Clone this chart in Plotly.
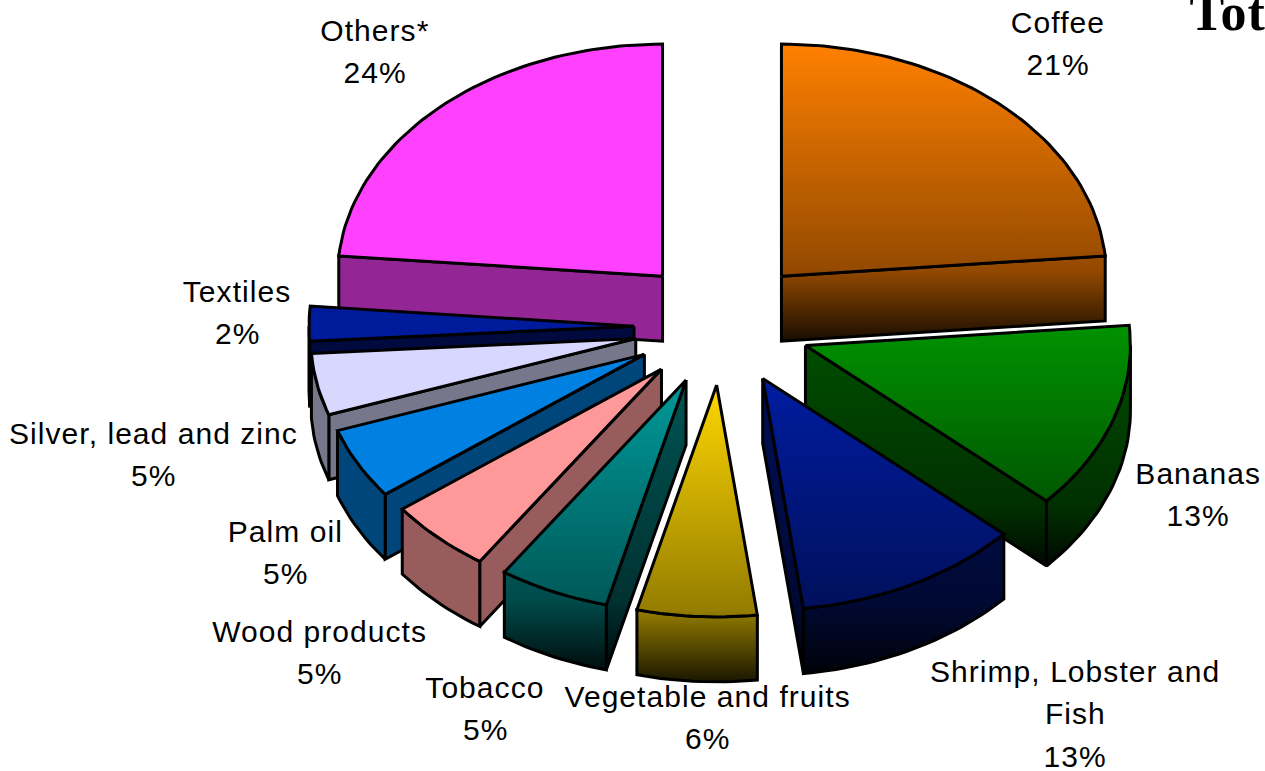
import math
import plotly.graph_objects as go

# ---- data ----
categories = ["Coffee", "Bananas", "Shrimp, Lobster and<br>Fish", "Vegetable and fruits",
              "Tobacco", "Wood products", "Palm oil", "Silver, lead and zinc",
              "Textiles", "Others*"]
percent_labels = [21, 13, 13, 6, 5, 5, 5, 5, 2, 24]
# apparent size of each slice on the tilted ellipse, degrees
drawn_sweep = [85.0, 47.1, 40.7, 21.4, 19.8, 18.9, 17.9, 15.5, 8.7, 85.0]

# ---- styles ----
face_colors = [(255, 128, 0), (0, 146, 0), (0, 28, 160), (255, 215, 0), (0, 153, 153),
               (255, 153, 153), (0, 128, 224), (216, 216, 255), (0, 26, 156), (255, 64, 255)]
has_gradient = [True, True, True, True, True, False, False, False, False, False]
radial_wall_shade = [1.0, 0.55, 0.55, 1.0, 0.55, 0.6, 0.55, 0.55, 0.4, 0.58]
rim_wall_shade = [1.0, 0.55, 0.55, 1.0, 0.85, 0.6, 0.55, 0.55, 0.4, 0.58]
label_x = [1058, 1198, 1075, 707, 485, 319, 285, 153, 237, 375]
label_y = [22, 473, 671, 696, 687, 631, 531, 433, 291, 30]
LINE = 42.5
CX, CY = 722, 327        # pie centre
A, B = 325, 232          # ellipse radii
EX, EY_FAR, EY_NEAR = 88, 69, 58   # explosion
DEPTH = 65


def shade(c, k):
    return "rgb(%d,%d,%d)" % tuple(round(v * k) for v in c)


def arc(ax, ay, t1, t2, dy=0.0):
    n = max(2, int(abs(t2 - t1) / 1.5) + 1)
    out = []
    for i in range(n + 1):
        t = math.radians(t1 + (t2 - t1) * i / n)
        out.append((ax + A * math.sin(t), ay - B * math.cos(t) + dy))
    return out


fig = go.Figure()


def poly(pts, color, grad, top, bottom, k=1.0):
    xs = [p[0] for p in pts] + [pts[0][0]]
    ys = [p[1] for p in pts] + [pts[0][1]]
    kw = {}
    if grad:
        kw["fillgradient"] = dict(
            type="vertical", start=top, stop=bottom,
            colorscale=[[0, shade(color, k)], [0.76, shade(color, 0.58 * k)],
                        [1, shade(color, 0.1 * k)]])
    else:
        kw["fillcolor"] = shade(color, k)
    fig.add_trace(go.Scatter(x=xs, y=ys, mode="lines", fill="toself",
                             line=dict(color="black", width=3), hoverinfo="skip",
                             showlegend=False, **kw))


slices = []
start = 0.0
for i, s in enumerate(drawn_sweep):
    end = start + s
    mid = math.radians((start + end) / 2)
    ey = EY_FAR if math.cos(mid) > 0 else EY_NEAR
    ax = CX + EX * math.sin(mid)
    ay = CY - ey * math.cos(mid)
    slices.append((i, start, end, ax, ay, math.cos(mid)))
    start = end

for i, t1, t2, ax, ay, c in sorted(slices, key=lambda r: -r[5]):
    col, grad, wk = face_colors[i], has_gradient[i], radial_wall_shade[i]
    face = [(ax, ay)] + arc(ax, ay, t1, t2)
    top = min(p[1] for p in face)
    bottom = max(p[1] for p in face) + DEPTH
    # radial walls facing the viewer
    if math.sin(math.radians(t2)) > 0.01:
        e = arc(ax, ay, t2, t2)[0]
        poly([(ax, ay), e, (e[0], e[1] + DEPTH), (ax, ay + DEPTH)], col, grad, top, bottom, wk)
    if math.sin(math.radians(t1)) < -0.01:
        e = arc(ax, ay, t1, t1)[0]
        poly([(ax, ay), e, (e[0], e[1] + DEPTH), (ax, ay + DEPTH)], col, grad, top, bottom, wk)
    # rim wall on the near half
    lo, hi = max(t1, 90), min(t2, 270)
    if hi > lo:
        poly(arc(ax, ay, lo, hi) + arc(ax, ay, hi, lo, DEPTH), col, grad, top, bottom, rim_wall_shade[i])
    poly(face, col, grad, top, bottom)

font = dict(family="Liberation Sans", size=30, color="black")
for name, pct, x, y in zip(categories, percent_labels, label_x, label_y):
    lines = name.split("<br>") + [f"{pct}%"]
    for j, txt in enumerate(lines):
        fig.add_annotation(x=x, y=y + j * LINE, xref="x", yref="y", text=txt, showarrow=False,
                           xanchor="center", yanchor="middle", font=font)

fig.add_annotation(x=1189, y=12, xref="x", yref="y", text="<b>Tot</b>", showarrow=False,
                   xanchor="left", yanchor="middle",
                   font=dict(family="Liberation Serif", size=52, color="black"))

fig.update_layout(
    width=1265, height=771, margin=dict(l=0, r=0, t=0, b=0),
    paper_bgcolor="white", plot_bgcolor="white", showlegend=False,
    xaxis=dict(range=[0, 1265], visible=False, fixedrange=True),
    yaxis=dict(range=[771, 0], visible=False, fixedrange=True),
)
page_css = ("var s=document.createElement('style');"
            "s.textContent='body{margin:0;overflow:hidden}.annotation-text{letter-spacing:1.05px}';"
            "document.head.appendChild(s);")
fig.write_html("out.html", config={"displayModeBar": False}, post_script=page_css)
